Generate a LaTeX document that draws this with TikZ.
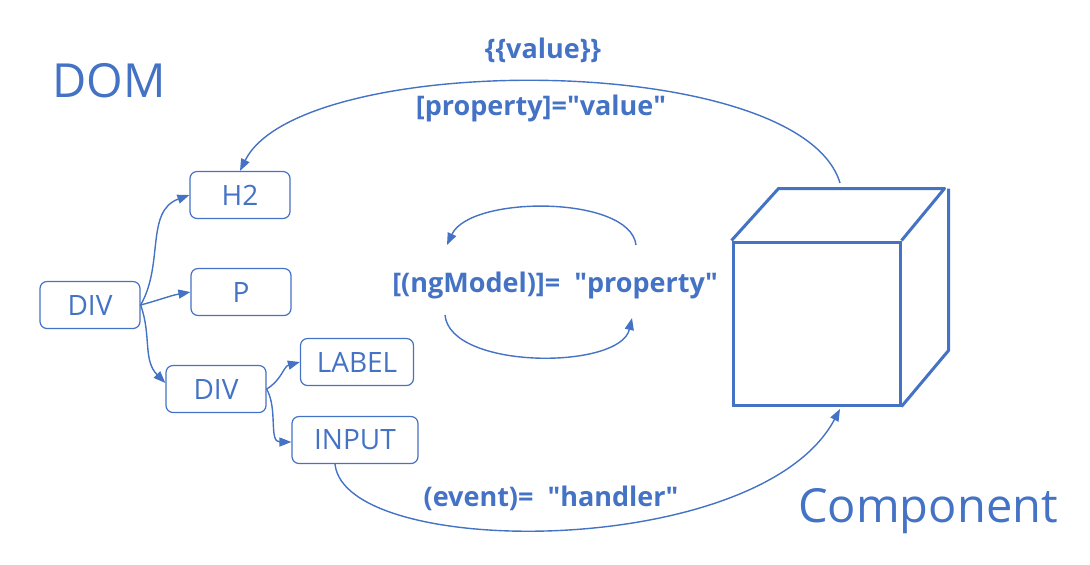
\documentclass[tikz,border=0pt]{standalone}
\usepackage{fontspec}
\setmainfont{Open Sans}
\usepackage{xcolor}
\usetikzlibrary{arrows.meta,positioning,calc}
\definecolor{ngblue}{HTML}{4472C4}
\newcommand{\qt}{\textquotedbl}
\begin{document}
\begin{tikzpicture}[x=0.5pt,y=-0.5pt,font=\fontsize{14}{16}\selectfont,
  box/.style={draw=ngblue,text=ngblue,rounded corners=3.5pt,line width=0.6pt,minimum height=23.5pt,minimum width=50pt,align=center},
  arr/.style={-{Triangle[length=6pt,width=4.5pt]},line width=0.7pt,draw=ngblue},
  lbl/.style={text=ngblue,font=\fontsize{13.5}{16}\selectfont\bfseries},
  ttl/.style={text=ngblue,font=\fontsize{23.5}{28}\selectfont}]
\useasboundingbox (0,0) rectangle (1090,564);
% DOM tree
\node[box] (bxDiv) at (90,305) {DIV};
\node[box] (bxHtwo) at (240,195) {H2};
\node[box] (bxPar) at (241,292) {P};
\node[box] (bxDivIn) at (216,389) {DIV};
\node[box,minimum width=56.5pt] (bxLabel) at (357,362) {LABEL};
\node[box,minimum width=63pt] (bxInput) at (355,440) {INPUT};
\draw[arr] (bxDiv.east) to[out=60,in=200] (bxHtwo.west);
\draw[arr] (bxDiv.east) to[out=15,in=190] (bxPar.west);
\draw[arr] (bxDiv.east) to[out=-70,in=135] ([yshift=3pt]bxDivIn.west);
\draw[arr] (bxDivIn.east) to[out=30,in=195] (bxLabel.west);
\draw[arr] (bxDivIn.east) to[out=-60,in=180] ([yshift=-1pt]bxInput.west);
% component cube
\node[draw=ngblue,line width=1.5pt,minimum width=83.5pt,minimum height=81.5pt] (bxComp) at (816.5,323.5) {};
\draw[ngblue,line width=1.5pt,line join=round]
  (bxComp.north west) -- ++(47,-52) -- ++(166,0) -- (bxComp.north east)
  ($(bxComp.north east)+(47,-52)$) -- ++(0,162) -- (bxComp.south east);
\coordinate (topstart) at (840,183);
\coordinate (botend) at (840,409);
% bindings
\draw[arr] (topstart) .. controls (800,50) and (300,50) .. (bxHtwo.north);
\draw[arr] ([xshift=-10pt]bxInput.south) .. controls (345,560) and (760,560) .. (botend);
\coordinate (upstart) at (636,245);
\coordinate (upend) at (447,245);
\coordinate (lostart) at (445,315);
\coordinate (loend) at (632,318);
\draw[arr] (upstart) .. controls (630,195) and (470,195) .. (upend);
\draw[arr] (lostart) .. controls (450,370) and (620,370) .. (loend);
% labels
\node[lbl] (lbValue) at (543,50) {\{\{value\}\}};
\node[lbl] (lbProp) at (541,108) {[property]=\qt value\qt};
\node[lbl] (lbModel) at (555,285) {[(ngModel)]= \ \qt property\qt};
\node[lbl] (lbEvent) at (551,498) {(event)= \ \qt handler\qt};
\node[ttl] (tlDom) at (109,81) {DOM};
\node[ttl] (tlComp) at (928,511) {Component};
\end{tikzpicture}
\end{document}
